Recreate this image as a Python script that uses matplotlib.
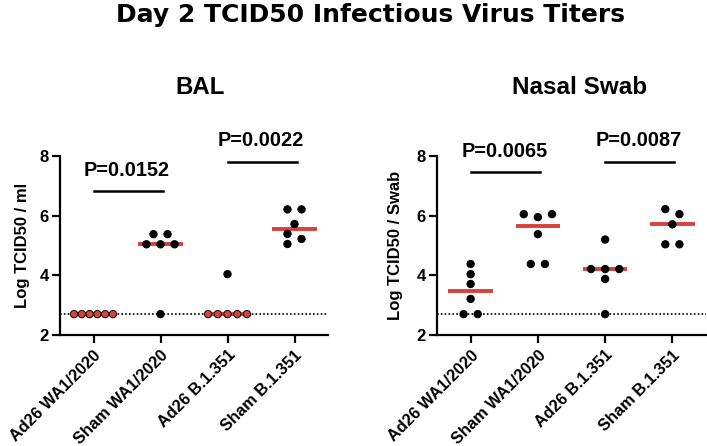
import matplotlib
matplotlib.use("Agg")
import matplotlib.pyplot as plt
import numpy as np

plt.rcParams['font.family'] = ['Liberation Sans', 'DejaVu Sans']
plt.rcParams['font.weight'] = 'bold'

# Data (log TCID50)
groups = ["Ad26 WA1/2020", "Sham WA1/2020", "Ad26 B.1.351", "Sham B.1.351"]
lod = 2.7

bal_ad26_wa1 = [2.7, 2.7, 2.7, 2.7, 2.7, 2.7]
bal_sham_wa1 = [5.38, 5.38, 5.04, 5.04, 5.04, 2.7]
bal_ad26_b1351 = [4.04, 2.7, 2.7, 2.7, 2.7, 2.7]
bal_sham_b1351 = [6.21, 6.21, 5.72, 5.39, 5.22, 5.05]

nasal_ad26_wa1 = [4.38, 4.04, 3.71, 3.21, 2.7, 2.7]
nasal_sham_wa1 = [6.05, 5.95, 6.05, 5.38, 4.38, 4.38]
nasal_ad26_b1351 = [5.2, 4.21, 4.21, 4.21, 3.88, 2.7]
nasal_sham_b1351 = [6.22, 6.05, 5.71, 5.04, 5.04]

bal_pvals = ["P=0.0152", "P=0.0022"]
nasal_pvals = ["P=0.0065", "P=0.0087"]
# height of the comparison bars
bal_bar_y = [6.83, 7.81]
nasal_bar_y = [7.45, 7.81]

RED = "#d9413b"


def swarm_offsets(vals, step=0.21, max_span=0.58, row_gap=0.12, run_gap=0.25):
    """Column-scatter offsets: near-equal values share a row, close singles alternate."""
    vals = np.asarray(vals, dtype=float)
    order = np.argsort(-vals, kind="stable")
    offs = np.zeros(len(vals))
    # build rows of (near) equal values
    rows = []
    for idx in order:
        if rows and abs(vals[rows[-1][-1]] - vals[idx]) <= row_gap:
            rows[-1].append(idx)
        else:
            rows.append([idx])
    side = -1
    prev_single = None
    for row in rows:
        n = len(row)
        if n == 1:
            idx = row[0]
            if prev_single is not None and abs(vals[prev_single] - vals[idx]) < run_gap:
                if offs[prev_single] == 0:
                    offs[prev_single] = -step / 2
                    side = 1
                offs[idx] = side * step / 2
                side = -side
            else:
                side = -1
            prev_single = idx
            continue
        prev_single = None
        s = min(step, max_span / (n - 1))
        pos = (np.arange(n) - (n - 1) / 2) * s
        pos = pos[np.argsort(np.abs(pos), kind="stable")]
        row_sorted = sorted(row, key=lambda i: vals[i])
        for i, p in zip(row_sorted, pos):
            offs[i] = p
    return offs


def draw_panel(ax, data, ylabel, pvals, bar_y, labelpad=7):
    ax.axhline(lod, ls=(0, (1, 1.3)), color="black", lw=1.2, zorder=1)
    for i, vals in enumerate(data):
        vals = np.asarray(vals)
        x = i + swarm_offsets(vals)
        med = np.median(vals)
        # groups whose median sits on the detection limit show red-filled dots there
        face = np.where((vals == lod) & (med == lod), RED, "black")
        ax.plot([i - 0.33, i + 0.33], [med, med], color=RED, lw=2.8,
                solid_capstyle="butt", zorder=2)
        ax.scatter(x, vals, s=28, c=face, edgecolors="black", linewidths=0.7,
                   zorder=3)
    for k, (p, y) in enumerate(zip(pvals, bar_y)):
        a, b = 2 * k, 2 * k + 1
        ax.plot([a, b + 0.03], [y, y], color="black", lw=1.8, clip_on=False)
        ax.text((a + b) / 2, y + 0.38, p, ha="center", va="bottom",
                fontsize=14.3, fontweight="bold", clip_on=False)

    ax.set_xlim(-0.5, 3.5)
    ax.set_ylim(2, 8)
    ax.set_yticks([2, 4, 6, 8])
    ax.set_xticks(range(len(groups)))
    ax.set_xticklabels(groups, rotation=45, ha="right", va="top",
                       rotation_mode="anchor", fontsize=11.8, fontweight="bold")
    ax.tick_params(axis="y", labelsize=12, width=1.6, length=6, pad=2)
    ax.tick_params(axis="x", width=1.6, length=6, pad=3)
    for lbl in ax.get_yticklabels():
        lbl.set_fontweight("bold")
    for sp in ["top", "right"]:
        ax.spines[sp].set_visible(False)
    for sp in ["left", "bottom"]:
        ax.spines[sp].set_linewidth(1.6)
    ax.set_ylabel(ylabel, fontsize=12, fontweight="bold", labelpad=labelpad)


fig = plt.figure(figsize=(7.07, 4.46), dpi=100)
ax1 = fig.add_axes([60 / 707, 1 - 335 / 446, 268 / 707, 179 / 446])
ax2 = fig.add_axes([437 / 707, 1 - 335 / 446, 269 / 707, 179 / 446])

draw_panel(ax1, [bal_ad26_wa1, bal_sham_wa1, bal_ad26_b1351, bal_sham_b1351],
           "Log TCID50 / ml", bal_pvals, bal_bar_y)
draw_panel(ax2, [nasal_ad26_wa1, nasal_sham_wa1, nasal_ad26_b1351, nasal_sham_b1351],
           "Log TCID50 / Swab", nasal_pvals, nasal_bar_y, labelpad=10)

fig.text(371 / 707, 1 - 22 / 446, "Day 2 TCID50 Infectious Virus Titers",
         ha="center", va="baseline", fontsize=18, fontweight="bold",
         family="DejaVu Sans")
fig.text(200.5 / 707, 1 - 93.5 / 446, "BAL", ha="center", va="baseline",
         fontsize=17.3, fontweight="bold")
fig.text(580 / 707, 1 - 93.5 / 446, "Nasal Swab", ha="center", va="baseline",
         fontsize=17.5, fontweight="bold")

fig.savefig("out.png", dpi=100)
